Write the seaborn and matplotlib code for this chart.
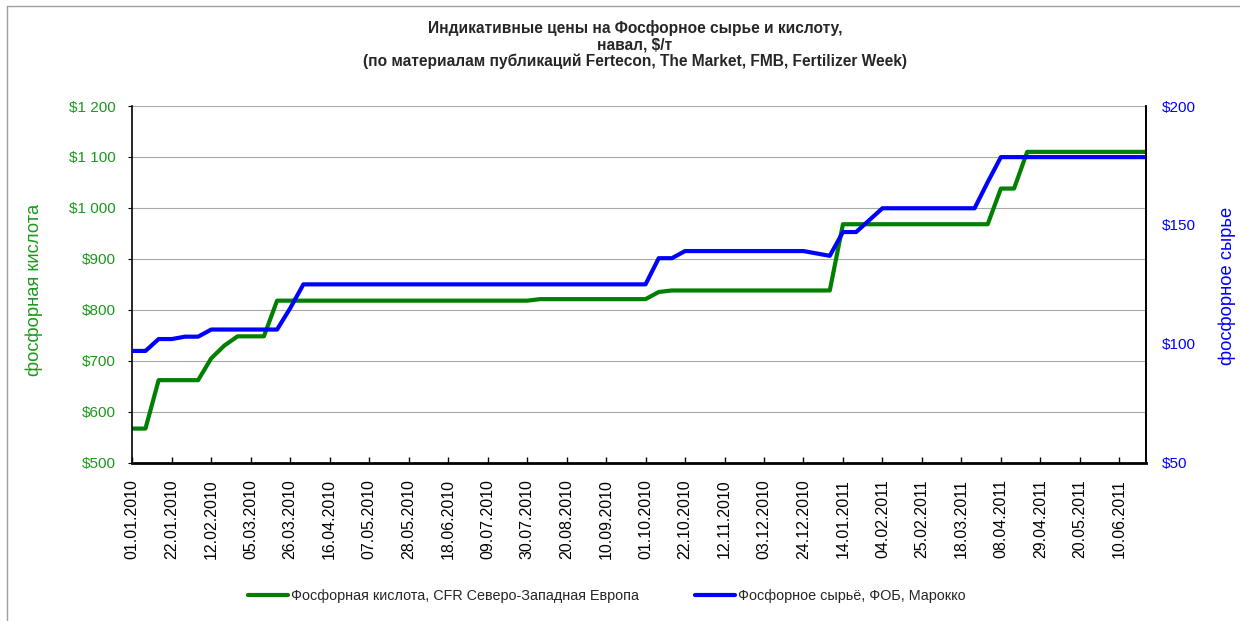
import matplotlib
matplotlib.use("Agg")
import matplotlib.pyplot as plt
import matplotlib.ticker as mticker
from matplotlib.lines import Line2D
import pandas as pd
import seaborn as sns

# weekly quotes, 01.01.2010 .. 24.06.2011
weeks = pd.date_range("2010-01-01", periods=78, freq="7D")

# фосфорная кислота, CFR СЗ Европа, $/т (left axis)
acid = [
    567, 567, 662, 662, 662, 662, 705, 730, 748, 748,
    748, 818, 818, 818, 818, 818, 818, 818, 818, 818,
    818, 818, 818, 818, 818, 818, 818, 818, 818, 818,
    818, 821, 821, 821, 821, 821, 821, 821, 821, 821,
    835, 838, 838, 838, 838, 838, 838, 838, 838, 838,
    838, 838, 838, 838, 968, 968, 968, 968, 968, 968,
    968, 968, 968, 968, 968, 968, 1038, 1038, 1110, 1110,
    1110, 1110, 1110, 1110, 1110, 1110, 1110, 1110,
]

# фосфорное сырьё, ФОБ Марокко, $/т (right axis)
rock = [
    97, 97, 102, 102, 103, 103, 106, 106, 106, 106,
    106, 106, 115, 125, 125, 125, 125, 125, 125, 125,
    125, 125, 125, 125, 125, 125, 125, 125, 125, 125,
    125, 125, 125, 125, 125, 125, 125, 125, 125, 125,
    136, 136, 139, 139, 139, 139, 139, 139, 139, 139,
    139, 139, 138, 137, 147, 147, 152, 157, 157, 157,
    157, 157, 157, 157, 157, 168, 178.5, 178.5, 178.5, 178.5,
    178.5, 178.5, 178.5, 178.5, 178.5, 178.5, 178.5, 178.5,
]

acid_label = "Фосфорная кислота, CFR Северо-Западная Европа"
rock_label = "Фосфорное сырьё, ФОБ, Марокко"
title = ("Индикативные цены на Фосфорное сырье и кислоту,\n"
         "навал, $/т\n"
         "(по материалам публикаций Fertecon, The Market, FMB, Fertilizer Week)")

df = pd.DataFrame({"date": weeks, "acid": acid, "rock": rock})

sns.set_theme(style="white")
plt.rcParams["font.family"] = ["Liberation Sans", "DejaVu Sans"]

GREEN = "#008000"
GREEN_TXT = "#1a991a"
BLUE = "#0000ff"

fig = plt.figure(figsize=(12.4, 6.21), dpi=100)
ax = fig.add_axes([0.1067, 0.2549, 0.8172, 0.5744])
ax2 = ax.twinx()

sns.lineplot(data=df, x="date", y="acid", ax=ax, color=GREEN, lw=3)
sns.lineplot(data=df, x="date", y="rock", ax=ax2, color=BLUE, lw=3)

ax.set_xlim(weeks[0], weeks[-1])
ax.set_ylim(500, 1200)
ax2.set_ylim(50, 200)
ax.set_yticks(range(500, 1201, 100))
ax2.set_yticks([50, 100, 150, 200])


def money(v, _):
    s = f"{int(v):,}".replace(",", " ")
    return "$" + s


ax.yaxis.set_major_formatter(mticker.FuncFormatter(money))
ax2.yaxis.set_major_formatter(mticker.FuncFormatter(money))

ax.set_xticks(weeks[::3])
ax.set_xticklabels([d.strftime("%d.%m.%Y") for d in weeks[::3]], rotation=90)

ax.grid(axis="y", color="#a8a8a8", lw=0.8)
ax.grid(axis="x", visible=False)
ax2.grid(False)

for a in (ax, ax2):
    a.spines["top"].set_visible(False)
    for s in ("left", "right", "bottom"):
        a.spines[s].set_color("black")
ax.spines["left"].set_linewidth(1.2)
ax.spines["bottom"].set_linewidth(2)
ax2.spines["right"].set_linewidth(1.2)
ax2.spines["left"].set_visible(False)
ax2.spines["bottom"].set_visible(False)

ax.tick_params(axis="y", left=True, length=3, width=0.8, pad=9,
               colors="black", labelcolor=GREEN_TXT, labelsize=11)
ax.tick_params(axis="x", bottom=True, direction="in", length=4, width=1,
               pad=12, labelsize=11.5, colors="black")
ax2.tick_params(axis="y", right=True, length=0, pad=12,
                labelcolor=BLUE, labelsize=11)

ax.set_xlabel("")
ax.set_ylabel("фосфорная кислота", color=GREEN_TXT, fontsize=13.2)
ax.yaxis.set_label_coords(-0.088, 0.484)
ax2.set_ylabel("фосфорное сырье", color=BLUE, fontsize=13.2)
ax2.yaxis.set_label_coords(1.072, 0.495)

fig.text(0.512, 1 - 20 / 621, title, ha="center", va="top",
         fontsize=11.2, fontweight="bold", linespacing=1.12)

handles = [Line2D([], [], color=GREEN, lw=3), Line2D([], [], color=BLUE, lw=3)]
fig.legend(handles, [acid_label, rock_label], loc="center",
           bbox_to_anchor=(607 / 1240, 1 - 596 / 621), ncol=2, frameon=False,
           fontsize=10.4, handlelength=2.75, handletextpad=0.2, columnspacing=3.9)

# chart-area frame (only top and left edges are visible in the original)
fig.add_artist(Line2D([7 / 1240, 1], [1 - 6 / 621, 1 - 6 / 621],
                      transform=fig.transFigure, color="#a0a0a0", lw=1))
fig.add_artist(Line2D([7 / 1240, 7 / 1240], [0, 1 - 6 / 621],
                      transform=fig.transFigure, color="#a0a0a0", lw=1))

fig.savefig("out.png", dpi=100)
